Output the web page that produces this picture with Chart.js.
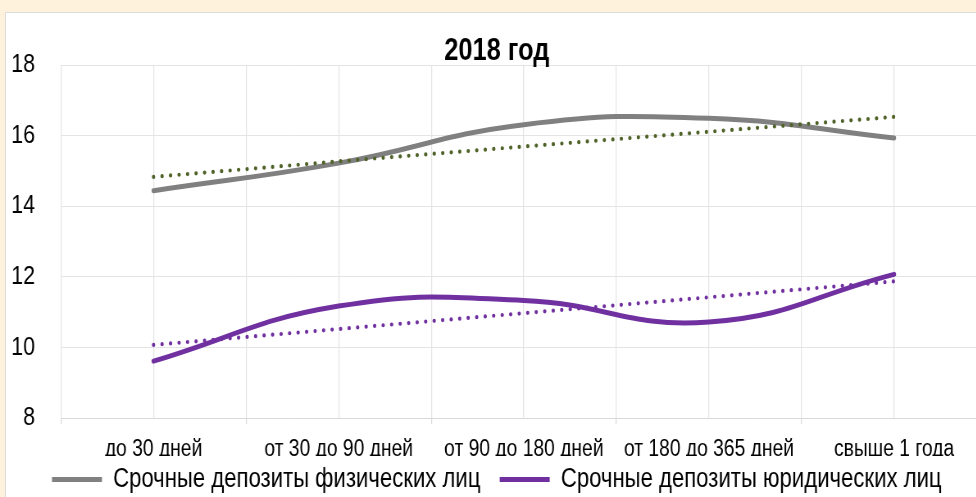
<!DOCTYPE html>
<html>
<head>
<meta charset="utf-8">
<script src="https://cdn.jsdelivr.net/npm/chart.js@4.4.1/dist/chart.umd.min.js"></script>
<style>
  html, body { margin: 0; padding: 0; }
  body { width: 976px; height: 497px; overflow: hidden; background: #fff2dc; position: relative; }
  #panel { position: absolute; left: 5px; top: 12px; width: 1000px; height: 500px; background: #fff; border: 1px solid #dcdcdc; }
  #chart { position: absolute; left: 0; top: 0; }
</style>
</head>
<body>
<div id="panel"></div>
<!-- холст сжат по горизонтали, чтобы шрифт выглядел как Arial Narrow -->
<canvas id="chart" width="1220" height="497" style="width:1000px;height:497px"></canvas>
<script>
  const categories = ['до 30 дней', 'от 30 до 90 дней', 'от 90 до 180 дней', 'от 180 до 365 дней', 'свыше 1 года'];
  const seriesNames = ['Срочные депозиты физических лиц', 'Срочные депозиты юридических лиц'];

  // значения
  const individuals = [14.44, 15.22, 16.31, 16.49, 15.93];
  const legalEntities = [9.61, 11.17, 11.33, 10.72, 12.07];

  // линии тренда (точечные)
  const individualsTrend = [14.83, 15.27, 15.69, 16.11, 16.53];
  const legalTrend = [10.07, 10.52, 10.97, 11.42, 11.87];

  const yTicks = [8, 10, 12, 14, 16, 18];

  const font = "'Liberation Sans', Arial, sans-serif";
  const gridColor = '#e4e4e4';

  function mainLine(label, data, color) {
    return {
      label: label,
      data: data,
      borderColor: color,
      backgroundColor: color,
      borderWidth: 5,
      borderCapStyle: 'round',
      borderJoinStyle: 'round',
      tension: 0.45,
      pointRadius: 0,
      xAxisID: 'x',
      order: 1
    };
  }

  function trendLine(data, color) {
    return {
      label: 'trend',
      data: data,
      borderColor: color,
      borderWidth: 4.2,
      borderDash: [0, 10.4],
      borderCapStyle: 'round',
      tension: 0,
      pointRadius: 0,
      xAxisID: 'x',
      order: 0
    };
  }

  // легенда только для двух основных рядов
  function legendLabels(chart) {
    const items = Chart.defaults.plugins.legend.labels.generateLabels(chart)
      .filter(item => item.datasetIndex < 2);
    items[0].text += '\u2002';
    return items;
  }

  const ctx = document.getElementById('chart').getContext('2d');
  new Chart(ctx, {
    type: 'line',
    data: {
      labels: categories,
      datasets: [
        mainLine(seriesNames[0], individuals, '#808080'),
        mainLine(seriesNames[1], legalEntities, '#7030a0'),
        trendLine(individualsTrend, '#4f6228'),
        trendLine(legalTrend, '#7030a0')
      ]
    },
    options: {
      responsive: false,
      animation: false,
      devicePixelRatio: 1,
      layout: { padding: { left: 8.5, right: 16.3, top: 0, bottom: -6 } },
      plugins: {
        title: {
          display: true,
          text: '2018 год',
          color: '#000',
          font: { family: font, size: 31, weight: 'bold', lineHeight: 1 },
          padding: { top: 36, bottom: -2 }
        },
        legend: {
          position: 'bottom',
          labels: {
            usePointStyle: true,
            pointStyle: 'line',
            pointStyleWidth: 61,
            color: '#000',
            padding: 10,
            font: { family: font, size: 27 },
            generateLabels: legendLabels
          }
        },
        tooltip: { enabled: false }
      },
      scales: {
        x: {
          type: 'category',
          offset: true,
          afterFit: scale => { scale.height = 38; },
          grid: { offset: true, color: gridColor, lineWidth: 1.22, tickColor: '#d9d9d9', tickLength: 6 },
          border: { color: '#d9d9d9' },
          ticks: {
            color: '#000',
            padding: 18,
            maxRotation: 0,
            autoSkip: false,
            font: { family: font, size: 23.5, lineHeight: 0.6 }
          }
        },
        xMid: {
          type: 'category',
          position: 'bottom',
          offset: true,
          grid: { offset: false, color: gridColor, lineWidth: 1.22, drawTicks: false },
          border: { display: false },
          ticks: { display: false }
        },
        y: {
          min: yTicks[0],
          max: yTicks[yTicks.length - 1],
          afterBuildTicks: scale => { scale.ticks = yTicks.map(v => ({ value: v })); },
          afterFit: scale => { scale.width = 65.9; },
          grid: { color: gridColor, drawTicks: false },
          border: { display: false },
          ticks: {
            color: '#000',
            padding: 31.7,
            font: { family: font, size: 26 }
          }
        }
      }
    }
  });
</script>
</body>
</html>
